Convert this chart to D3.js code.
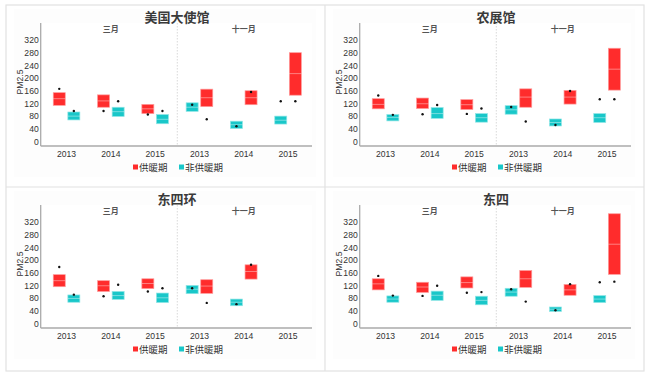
<!DOCTYPE html>
<html><head><meta charset="utf-8">
<script src="https://cdn.jsdelivr.net/npm/d3@7"></script>
<style>
html,body{margin:0;padding:0;background:#fff;}
svg{display:block;}
</style></head>
<body>
<svg id="chart" width="650" height="379"></svg>
<script>
// ---- data ----
const stations = ["美国大使馆", "农展馆", "东四环", "东四"];
const months = ["三月", "十一月"];
const years = ["2013", "2014", "2015"];
const periods = ["供暖期", "非供暖期"];
const yTicks = [0, 40, 80, 120, 160, 200, 240, 280, 320];
// each entry: [lower, middle, upper, dot] for 三月2013..2015, 十一月2013..2015
const embassyHeating    = [[114,135,154,166],[108,128,147,96],[88,103,117,85],[110,138,165,70],[116,138,160,156],[146,214,280,127]];
const embassyNonHeating = [[68,80,93,96],[79,94,108,127],[56,70,85,96],[95,108,122,116],[41,53,64,48],[55,67,80,127]];
const nongzhanHeating    = [[103,117,135,145],[104,119,137,86],[101,116,132,87],[108,140,166,63],[118,140,161,159],[162,228,294,133]];
const nongzhanNonHeating = [[65,76,85,84],[73,88,107,115],[61,75,88,104],[86,100,113,109],[49,60,71,52],[60,75,88,133]];
const dongsihuanHeating    = [[116,135,154,178],[101,119,135,86],[110,126,141,101],[95,118,138,65],[140,164,185,185],null];
const dongsihuanNonHeating = [[67,79,90,91],[76,88,101,122],[66,81,96,111],[94,108,120,111],[56,67,77,61],null];
const dongsiHeating    = [[106,125,141,150],[98,115,130,87],[112,129,147,97],[114,141,167,69],[89,106,123,124],[155,250,346,132]];
const dongsiNonHeating = [[67,77,87,88],[73,89,102,119],[59,73,86,99],[86,99,111,108],[38,45,52,42],[66,77,88,130]];

const heatingSeries = [embassyHeating, nongzhanHeating, dongsihuanHeating, dongsiHeating];
const nonHeatingSeries = [embassyNonHeating, nongzhanNonHeating, dongsihuanNonHeating, dongsiNonHeating];

// ---- styling ----
const colors = {"供暖期": "#ff2c2c", "非供暖期": "#19c7c9"};
const strokes = {"供暖期": "#ff9a9a", "非供暖期": "#8fe6e6"};
const cjk = "'Noto Sans CJK SC', 'Noto Sans', sans-serif";
const latin = "'Liberation Sans', Arial, sans-serif";

const svg = d3.select("#chart");
const origins = [[6,5],[325,5],[6,187],[325,187]];

// outer frame
svg.append("rect").attr("x",6).attr("y",5).attr("width",638).attr("height",366)
  .attr("fill","#fff").attr("stroke","#e2e2e2").attr("stroke-width",1.2);
svg.append("line").attr("x1",325).attr("x2",325).attr("y1",5).attr("y2",371).attr("stroke","#e2e2e2").attr("stroke-width",1.2);
svg.append("line").attr("x1",6).attr("x2",644).attr("y1",187).attr("y2",187).attr("stroke","#e2e2e2").attr("stroke-width",1.2);

const slots = [];
months.forEach(m => years.forEach(y => slots.push(m + "|" + y)));

stations.forEach((st, pi) => {
  const [ox, oy] = origins[pi];
  const g = svg.append("g").attr("transform", `translate(${ox},${oy})`);
  g.append("rect").attr("x",8).attr("y",4).attr("width",302).attr("height",168).attr("fill","#fdfdfd");

  const x = d3.scaleBand().domain(slots).range([38.4, 304.2]).padding(0);
  const y = d3.scaleLinear().domain([0, 320]).range([136.5, 35]);
  const axisLeft = 34.7, axisBottom = 141, axisTop = 18, axisRight = 306;

  g.append("rect").attr("x",axisLeft).attr("y",axisTop).attr("width",axisRight-axisLeft).attr("height",axisBottom-axisTop).attr("fill","#fff");

  // title
  g.append("text").attr("x", 171).attr("y", 17).attr("text-anchor","middle")
    .attr("font-family", cjk).attr("font-weight","bold").attr("font-size",13).attr("fill","#3a3a3a").text(st);

  // facet divider
  const divX = x(slots[3]);
  g.append("line").attr("x1",divX).attr("x2",divX).attr("y1",axisTop).attr("y2",axisBottom)
    .attr("stroke","#cfcfcf").attr("stroke-width",0.8).attr("stroke-dasharray","1.5,1.5");

  // facet labels
  months.forEach(m => {
    g.append("text").attr("x", x(m + "|2014") + x.bandwidth()/2).attr("y", 26.5).attr("text-anchor","middle")
      .attr("font-family", cjk).attr("font-weight","bold").attr("font-size",8).attr("fill","#555").text(m);
  });

  // y axis
  const ya = d3.axisLeft(y).tickValues(yTicks).tickSize(0).tickPadding(2);
  const yg = g.append("g").attr("transform", `translate(${axisLeft},0)`).call(ya);
  yg.select(".domain").remove();
  yg.selectAll("text").attr("font-family", latin).attr("font-size", 8.6).attr("fill","#333");
  g.append("line").attr("x1",axisLeft).attr("x2",axisLeft).attr("y1",axisTop).attr("y2",axisBottom).attr("stroke","#aaa").attr("stroke-width",1.3);

  // x axis
  const xa = d3.axisBottom(x).tickSize(0).tickPadding(5).tickFormat(d => d.split("|")[1]);
  const xg = g.append("g").attr("transform", `translate(0,${axisBottom})`).call(xa);
  xg.select(".domain").remove();
  xg.selectAll("text").attr("font-family", latin).attr("font-size", 8.6).attr("fill","#333");
  g.append("line").attr("x1",axisLeft).attr("x2",axisRight).attr("y1",axisBottom).attr("y2",axisBottom).attr("stroke","#aaa").attr("stroke-width",1.3);

  // y label
  g.append("text").attr("transform", `translate(17,77) rotate(-90)`).attr("text-anchor","middle")
    .attr("font-family", latin).attr("font-size", 8.6).attr("fill","#333").text("PM2.5");

  // boxes
  const boxW = 12, off = 7.3;
  const series = [[periods[0], heatingSeries[pi]], [periods[1], nonHeatingSeries[pi]]];
  series.forEach(([p, vals]) => {
    vals.forEach((v, si) => {
      if (!v) return;
      const slot = slots[si];
      const month = slot.split("|")[0];
      const heatLeft = month === "三月";
      const side = (p === "供暖期") === heatLeft ? -1 : 1;
      const cx = x(slot) + x.bandwidth()/2 + side*off;
      const [lo, mid, hi, dot] = v;
      g.append("rect").attr("x", cx - boxW/2).attr("y", y(hi)).attr("width", boxW).attr("height", y(lo) - y(hi))
        .attr("fill", colors[p]).attr("stroke", strokes[p]).attr("stroke-width", 0.7);
      g.append("line").attr("x1", cx - boxW/2).attr("x2", cx + boxW/2).attr("y1", y(mid)).attr("y2", y(mid))
        .attr("stroke", "rgba(255,255,255,0.5)").attr("stroke-width", 0.8);
      g.append("circle").attr("cx", cx).attr("cy", y(dot)).attr("r", 1.2).attr("fill", "#111");
    });
  });

  // legend
  const leg = [[periods[0], 127], [periods[1], 173]];
  leg.forEach(([p, lx]) => {
    g.append("rect").attr("x", lx).attr("y", 159.5).attr("width", 5).attr("height", 5).attr("fill", colors[p]);
    g.append("text").attr("x", lx + 6).attr("y", 165.5).attr("font-family", cjk).attr("font-size", 9.5).attr("fill","#333").text(p);
  });
});
</script>
</body></html>
